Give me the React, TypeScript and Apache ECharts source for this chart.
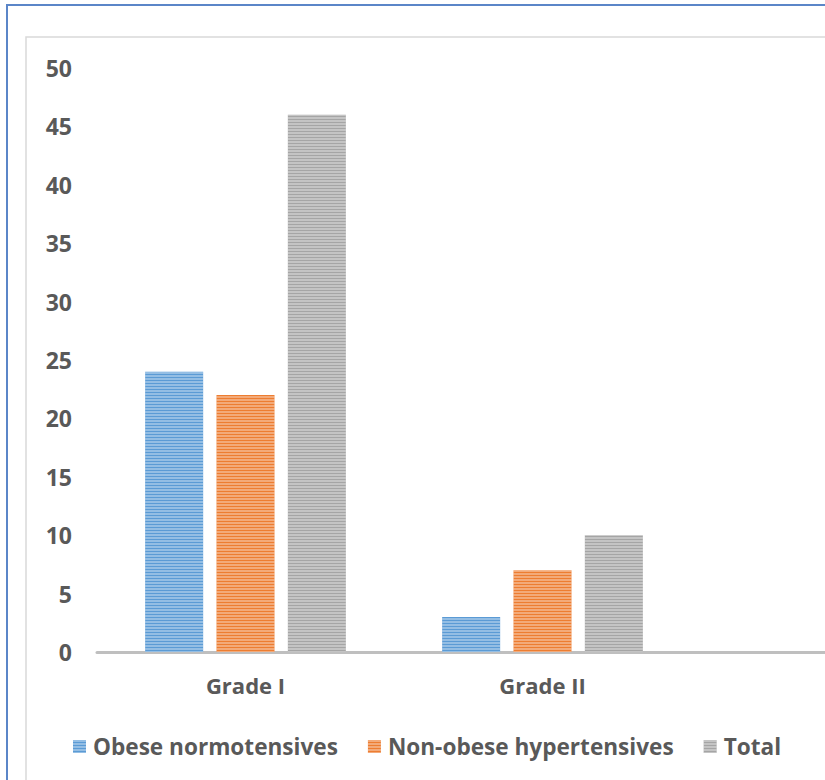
import React, { useEffect, useRef } from "react";
import * as echarts from "echarts";

const categories = ["Grade I", "Grade II", ""];
const seriesNames = ["Obese normotensives", "Non-obese hypertensives", "Total"];
const obeseNormotensives = [24, 3, null];
const nonObeseHypertensives = [22, 7, null];
const total = [46, 10, null];
const yTicks = { min: 0, max: 50, interval: 5 };
const colors = ["#5B9BD5", "#ED7D31", "#A5A5A5"];

export default function App() {
  const ref = useRef<HTMLDivElement>(null);
  useEffect(() => {
    const chart = echarts.init(ref.current!, null, { renderer: "svg" });
    const font = "'Open Sans', 'DejaVu Sans', sans-serif";
    const decal = {
      symbol: "rect",
      symbolSize: 1,
      dashArrayX: [1, 0],
      dashArrayY: [2, 1],
      rotation: 0,
      color: "rgba(255,255,255,0.35)",
    };
    const data = [obeseNormotensives, nonObeseHypertensives, total];
    chart.setOption({
      animation: false,
      backgroundColor: "#ffffff",
      aria: { enabled: false, decal: { show: true } },
      graphic: [
        {
          type: "rect",
          shape: { x: 7, y: 5, width: 1200, height: 1000 },
          style: { fill: "none", stroke: "#5B86C8", lineWidth: 2 },
          z: 0,
        },
        {
          type: "rect",
          shape: { x: 26, y: 37, width: 1200, height: 1000 },
          style: { fill: "none", stroke: "#D9D9D9", lineWidth: 1.5 },
          z: 0,
        },
      ],
      grid: { left: 97, right: 12, top: 68, bottom: 128, containLabel: false },
      legend: {
        top: 735,
        left: 73,
        padding: 0,
        itemWidth: 13,
        itemHeight: 13,
        itemGap: 30,
        icon: "rect",
        textStyle: {
          fontFamily: font,
          fontWeight: "bold",
          fontSize: 22.6,
          color: "#595959",
          padding: [0, 0, 0, 2],
        },
        data: seriesNames,
      },
      xAxis: {
        type: "category",
        data: categories,
        axisLine: { lineStyle: { color: "#BFBFBF", width: 3 } },
        axisTick: { show: false },
        axisLabel: {
          fontFamily: font,
          fontWeight: "bold",
          fontSize: 22,
          color: "#595959",
          margin: 22,
        },
      },
      yAxis: {
        type: "value",
        min: yTicks.min,
        max: yTicks.max,
        interval: yTicks.interval,
        splitLine: { show: false },
        axisLine: { show: false },
        axisTick: { show: false },
        axisLabel: {
          fontFamily: font,
          fontWeight: "bold",
          fontSize: 23,
          color: "#595959",
          margin: 25,
        },
      },
      series: seriesNames.map((name, i) => ({
        name,
        type: "bar",
        data: data[i],
        barWidth: 58,
        barGap: "23%",
        itemStyle: { color: colors[i], decal },
      })),
    });
    return () => chart.dispose();
  }, []);
  return (
    <div
      style={{ position: "fixed", left: 0, top: 0, width: 825, height: 780, overflow: "hidden", background: "#fff" }}
    >
      <div ref={ref} style={{ width: 1000, height: 780 }} />
    </div>
  );
}
